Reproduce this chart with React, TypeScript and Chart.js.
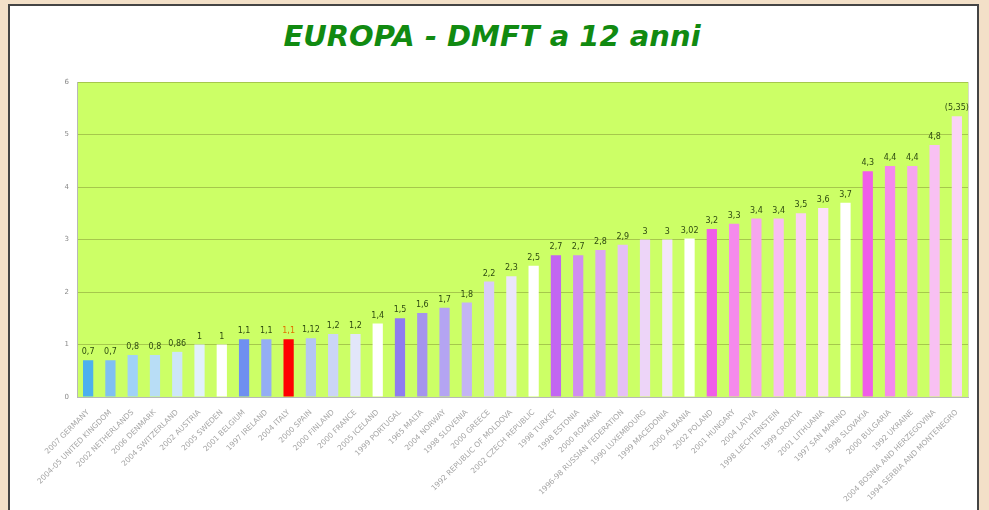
import React, { useEffect, useRef } from "react";
import { Chart, registerables } from "chart.js";

Chart.register(...registerables);

const categories = [
  "2007 GERMANY", "2004-05 UNITED KINGDOM", "2002 NETHERLANDS", "2006 DENMARK", "2004 SWITZERLAND",
  "2002 AUSTRIA", "2005 SWEDEN", "2001 BELGIUM", "1997 IRELAND", "2004 ITALY",
  "2000 SPAIN", "2000 FINLAND", "2000 FRANCE", "2005 ICELAND", "1999 PORTUGAL",
  "1965 MALTA", "2004 NORWAY", "1998 SLOVENIA", "2000 GREECE", "1992 REPUBLIC OF MOLDOVA",
  "2002 CZECH REPUBLIC", "1998 TURKEY", "1998 ESTONIA", "2000 ROMANIA", "1996-98 RUSSIAN FEDERATION",
  "1990 LUXEMBOURG", "1999 MACEDONIA", "2000 ALBANIA", "2002 POLAND", "2001 HUNGARY",
  "2004 LATVIA", "1998 LIECHTENSTEIN", "1999 CROATIA", "2001 LITHUANIA", "1997 SAN MARINO",
  "1998 SLOVAKIA", "2000 BULGARIA", "1992 UKRAINE", "2004 BOSNIA AND HERZEGOVINA", "1994 SERBIA AND MONTENEGRO",
];

const dmft = [
  0.7, 0.7, 0.8, 0.8, 0.86,
  1, 1, 1.1, 1.1, 1.1,
  1.12, 1.2, 1.2, 1.4, 1.5,
  1.6, 1.7, 1.8, 2.2, 2.3,
  2.5, 2.7, 2.7, 2.8, 2.9,
  3, 3, 3.02, 3.2, 3.3,
  3.4, 3.4, 3.5, 3.6, 3.7,
  4.3, 4.4, 4.4, 4.8, 5.35,
];

// indices whose value label is shown in parentheses
const bracketed = [39];
const highlighted = [9];

const yTicks = [0, 1, 2, 3, 4, 5, 6];

const barColors = [
  "#4db0ee", "#80c0f2", "#a0d2f8", "#b8ddf6", "#cde6f8",
  "#e2f1fb", "#ffffff", "#6f8ff0", "#94aef4", "#ff0000",
  "#b4c6f2", "#cbd5f6", "#e2e6fa", "#ffffff", "#8f7cf0",
  "#a594ee", "#b4a4f2", "#c4b4f4", "#d8ccf8", "#ebe6fb",
  "#ffffff", "#c266f2", "#d08ef0", "#dba8f2", "#e5c0f6",
  "#edd4f8", "#f3e6fa", "#ffffff", "#f05ee8", "#f58aec",
  "#f6a6ee", "#f8bef2", "#fad0f4", "#fce2f8", "#ffffff",
  "#f05ee8", "#f58aec", "#f6a6ee", "#f8c0f2", "#fad4f6",
];

const fmt = (v: number, i: number) => {
  const s = String(v).replace(".", ",");
  return bracketed.includes(i) ? `(${s})` : s;
};

const plotBg = {
  id: "plotBg",
  beforeDraw(chart: any) {
    const { ctx, chartArea: a } = chart;
    ctx.save();
    ctx.fillStyle = "#ccff66";
    ctx.fillRect(a.left, a.top, a.right - a.left, a.bottom - a.top);
    ctx.strokeStyle = "#d8dcc8";
    ctx.lineWidth = 1;
    ctx.strokeRect(a.left + 0.5, a.top + 0.5, a.right - a.left, a.bottom - a.top);
    ctx.restore();
  },
};

const valueLabels = {
  id: "valueLabels",
  afterDatasetsDraw(chart: any) {
    const { ctx } = chart;
    const meta = chart.getDatasetMeta(0);
    ctx.save();
    ctx.font = "8px 'DejaVu Sans'";
    ctx.textAlign = "center";
    ctx.textBaseline = "bottom";
    meta.data.forEach((bar: any, i: number) => {
      ctx.fillStyle = highlighted.includes(i) ? "#e07000" : "#2d4a10";
      ctx.fillText(fmt(dmft[i], i), bar.x, bar.y - 4);
    });
    ctx.restore();
  },
};

export default function App() {
  const ref = useRef<HTMLCanvasElement>(null);

  useEffect(() => {
    document.body.style.margin = "0";
    const chart = new Chart(ref.current!, {
      type: "bar",
      data: {
        labels: categories,
        datasets: [
          {
            data: dmft,
            backgroundColor: barColors,
            borderWidth: 0,
            barPercentage: 0.46,
            categoryPercentage: 1,
          },
        ],
      },
      options: {
        animation: false,
        responsive: false,
        maintainAspectRatio: false,
        layout: { padding: { top: 82, right: 21, left: 0, bottom: 0 } },
        plugins: { legend: { display: false }, tooltip: { enabled: false } },
        scales: {
          x: {
            grid: { display: false },
            border: { color: "#b8b8b8" },
            ticks: {
              autoSkip: false,
              maxRotation: 45,
              minRotation: 45,
              color: "#a4a4a4",
              font: { size: 7.5, family: "'DejaVu Sans'" },
              padding: 3,
            },
            afterFit(scale: any) {
              scale.height = 113;
              scale.paddingLeft = 0;
              scale.paddingRight = 0;
            },
          },
          y: {
            min: 0,
            max: 6,
            afterBuildTicks(scale: any) {
              scale.ticks = yTicks.map((v) => ({ value: v }));
            },
            grid: { color: "#a6c84c", drawTicks: false },
            border: { color: "#b8b8b8" },
            ticks: {
              color: "#8a8a8a",
              font: { size: 7, family: "'DejaVu Sans'" },
              padding: 8,
            },
            afterFit(scale: any) {
              scale.width = 77;
            },
          },
        },
      },
      plugins: [plotBg, valueLabels],
    });
    return () => chart.destroy();
  }, []);

  return (
    <div
      style={{
        position: "fixed",
        left: 0,
        top: 0,
        width: 989,
        height: 510,
        background: "#f3e0c8",
        overflow: "hidden",
      }}
    >
      <div
        style={{
          position: "absolute",
          left: 8,
          top: 4,
          width: 967,
          height: 540,
          background: "#ffffff",
          border: "2px solid #444444",
        }}
      />
      <div
        style={{
          position: "absolute",
          left: 0,
          top: 18,
          width: 984,
          textAlign: "center",
          fontFamily: "'DejaVu Sans', sans-serif",
          fontWeight: "bold",
          fontStyle: "italic",
          fontSize: 29,
          lineHeight: "36px",
          color: "#118a11",
        }}
      >
        EUROPA - DMFT a 12 anni
      </div>
      <canvas
        ref={ref}
        width={989}
        height={510}
        style={{ position: "absolute", left: 0, top: 0, width: 989, height: 510 }}
      />
    </div>
  );
}
